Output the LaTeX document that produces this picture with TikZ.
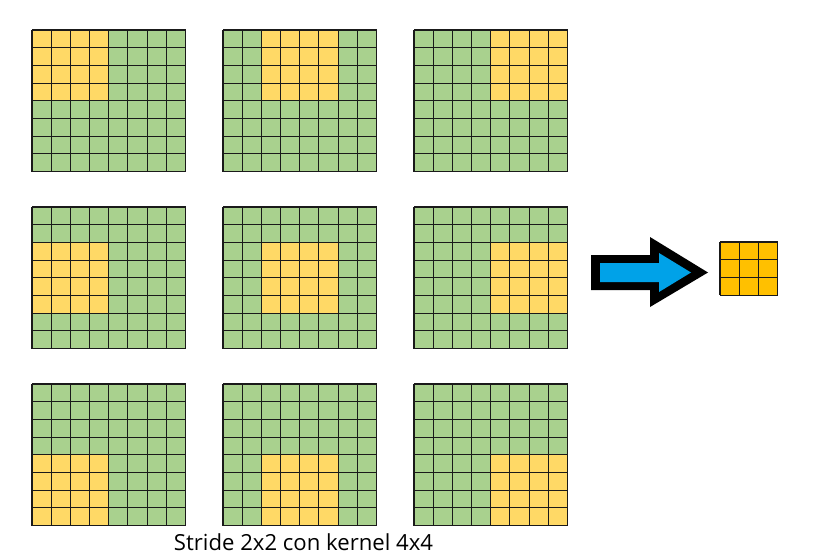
\documentclass[tikz,border=0pt]{standalone}
\usepackage{fontspec}
\setmainfont{Open Sans}
\definecolor{cgreen}{HTML}{A9D18E}
\definecolor{cyellow}{HTML}{FFD966}
\definecolor{corange}{HTML}{FFC000}
\definecolor{cblue}{HTML}{00A2E8}
\definecolor{cline}{HTML}{1A1A1A}
\begin{document}
\begin{tikzpicture}[x=0.75pt,y=-0.75pt,
  gridline/.style={draw=cline,line width=0.8pt},
  caption/.style={font=\fontsize{16.6}{19}\selectfont,anchor=base,inner sep=0pt}]
\useasboundingbox (0,0) rectangle (814,557);
\fill[white] (0,0) rectangle (814,557);
\def\cw{19.19}
\def\ch{17.69}
\foreach \i in {0,1,2}{
  \foreach \j in {0,1,2}{
    \pgfmathsetmacro{\xo}{32+191*\i}
    \pgfmathsetmacro{\yo}{30+177*\j}
    \fill[cgreen] (\xo,\yo) rectangle ++(8*\cw,8*\ch);
    \fill[cyellow] ({\xo+2*\i*\cw},{\yo+2*\j*\ch}) rectangle ++(4*\cw,4*\ch);
    \foreach \k in {0,...,8}{
      \draw[gridline] ({\xo+\k*\cw},\yo) -- ++(0,8*\ch);
      \draw[gridline] (\xo,{\yo+\k*\ch}) -- ++(8*\cw,0);
    }
  }
}
% arrow
\fill[black] (591,255) -- (650,255) -- (650,237) -- (708,272.5) -- (650,307) -- (650,290) -- (591,290) -- cycle;
\fill[cblue] (600,263) -- (659,263) -- (659,253) -- (691,272.5) -- (659,292) -- (659,282) -- (600,282) -- cycle;
% output
\fill[corange] (720,242) rectangle ++(3*\cw,3*\ch);
\foreach \k in {0,...,3}{
  \draw[gridline] ({720+\k*\cw},242) -- ++(0,3*\ch);
  \draw[gridline] (720,{242+\k*\ch}) -- ++(3*\cw,0);
}
\node[caption] (cap) at (303.5,550) {Stride 2x2 con kernel 4x4};
\end{tikzpicture}
\end{document}
